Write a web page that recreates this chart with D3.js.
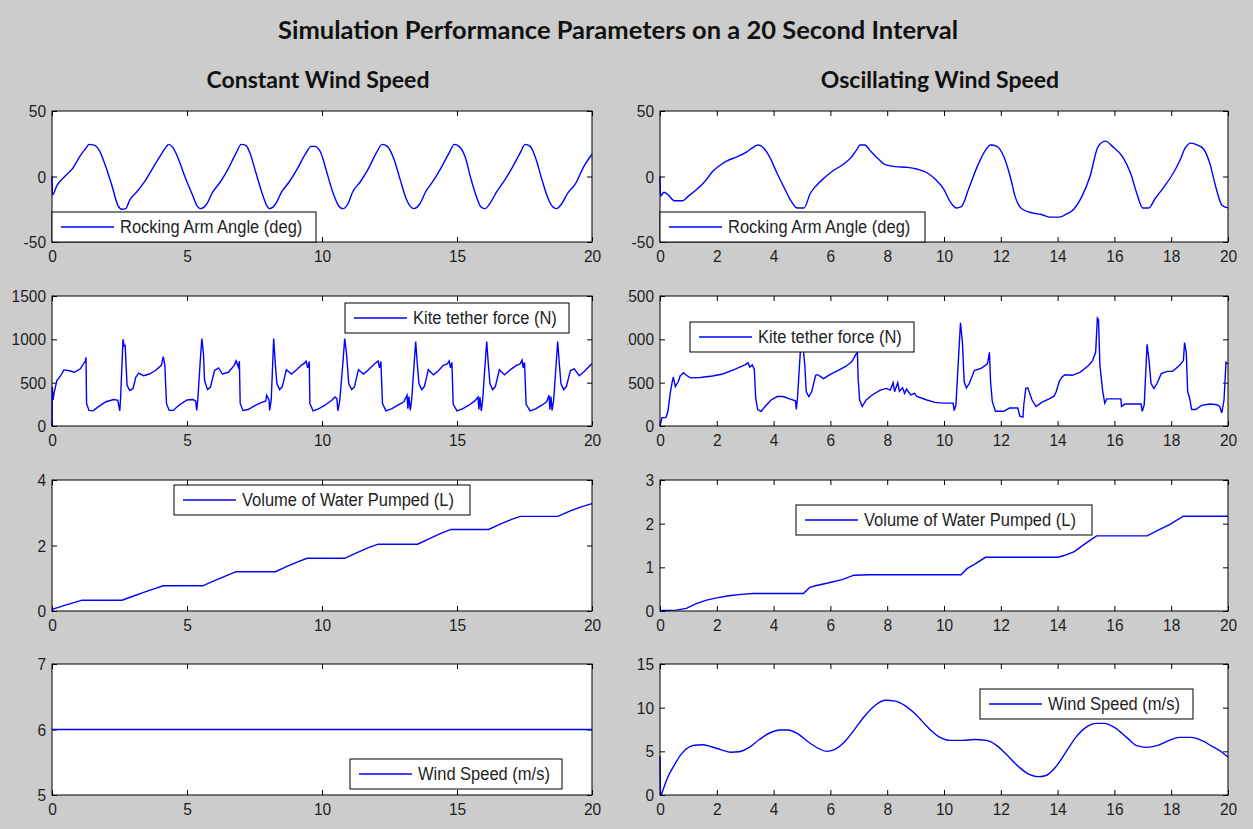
<!DOCTYPE html>
<html>
<head>
<meta charset="utf-8">
<script src="https://cdn.jsdelivr.net/npm/d3@7"></script>
<style>
  html, body { margin: 0; padding: 0; background: #cccccc; }
  .tick text { font-family: "Liberation Sans", Arial, sans-serif; font-size: 15.5px; fill: #1e1e1e; }
  .tick line { stroke: #000; }
  /* the original's Helvetica rendering is a little taller than it is wide */
  .tick text, .legend text { transform-box: fill-box; transform-origin: center; transform: scaleY(1.1); }
</style>
</head>
<body>
<div id="chart-area"></div>
<script>
// ---- data (time in s, value) ----
var xTicksConst = [0, 5, 10, 15, 20];
var xTicksOsc = [0, 2, 4, 6, 8, 10, 12, 14, 16, 18, 20];

var angleTicks = [-50, 0, 50];
var forceTicks = [0, 500, 1000, 1500];
var volTicksConst = [0, 2, 4];
var volTicksOsc = [0, 1, 2, 3];
var windTicksConst = [5, 6, 7];
var windTicksOsc = [0, 5, 10, 15];

var angleConst = [[0,0],[0.02,-14],[0.18,-7],[0.47,0],[0.76,6],[1.05,16],[1.27,22],[1.37,24.5],[1.56,24],[1.75,20],[2.0,7],[2.22,-7],[2.44,-22],[2.59,-25],[2.73,-24.5],[2.88,-18],[3.17,-11],[3.46,-3],[3.75,7],[4.05,17],[4.24,23],[4.32,24.5],[4.48,22],[4.63,16],[4.92,0],[5.2,-14],[5.39,-23],[5.51,-24.5],[5.73,-21],[5.95,-12],[6.24,-4],[6.53,6],[6.82,18],[7.01,24.5],[7.19,23.5],[7.33,18],[7.55,3],[7.77,-12],[7.95,-22],[8.06,-24.5],[8.28,-21],[8.5,-12],[8.79,-4],[9.09,6],[9.38,17],[9.6,23],[9.74,23],[9.96,18],[10.18,3],[10.4,-12],[10.62,-22.5],[10.77,-24.5],[10.96,-21],[11.13,-12],[11.42,-4],[11.72,6],[12.01,18],[12.23,24.5],[12.42,23],[12.67,13],[12.89,-2],[13.1,-16],[13.28,-23],[13.4,-24.5],[13.62,-21],[13.83,-12],[14.13,-3],[14.42,7],[14.71,18],[14.9,24.5],[15.08,23],[15.3,15],[15.52,-2],[15.73,-16],[15.88,-23],[16.03,-24.5],[16.25,-19.5],[16.46,-12],[16.76,-3],[17.05,7],[17.34,18],[17.52,24.5],[17.71,23],[17.93,13],[18.14,-2],[18.36,-16],[18.54,-23],[18.69,-24.5],[18.87,-21],[19.09,-13],[19.39,-5.5],[19.68,7],[20,17]];

var angleOsc = [[0,0],[0.02,-15],[0.14,-12],[0.29,-14],[0.5,-18.5],[0.79,-18.5],[1.0,-15],[1.29,-10],[1.57,-4],[1.86,4],[2.14,9],[2.36,12],[2.71,15],[3.07,19],[3.29,22.5],[3.46,24],[3.64,22],[3.86,15],[4.07,5],[4.36,-8],[4.57,-17],[4.83,-24],[5.07,-24],[5.29,-13],[5.5,-7],[5.79,-1],[6.07,4],[6.43,9],[6.71,14],[6.93,20.5],[7.04,24],[7.21,24],[7.43,19],[7.71,13],[7.93,9],[8.29,7.5],[8.71,7],[9.07,5.5],[9.43,2.5],[9.71,-2.5],[10.0,-10],[10.21,-19],[10.43,-24],[10.61,-23],[10.86,-10],[11.14,6],[11.43,19],[11.64,24],[11.86,23],[12.11,15],[12.36,-2.5],[12.5,-15],[12.71,-24],[13.14,-28],[13.43,-29],[13.71,-31],[14.07,-31],[14.29,-29],[14.57,-25],[14.86,-15],[15.14,0],[15.43,23],[15.69,27],[15.93,23],[16.29,15],[16.57,2.5],[16.79,-13],[17.0,-24],[17.21,-24],[17.43,-17],[17.71,-9],[18.0,0],[18.29,11.5],[18.5,22],[18.69,25.5],[18.93,24],[19.14,21],[19.36,10],[19.57,-8],[19.79,-22],[20,-24]];

var forceConst = [[0,0],[0.01,450],[0.04,300],[0.07,370],[0.18,525],[0.32,580],[0.44,647],[0.61,640],[0.83,620],[1.05,660],[1.23,750],[1.26,790],[1.28,260],[1.37,180],[1.52,175],[1.71,220],[2.0,280],[2.29,305],[2.44,297],[2.51,175],[2.54,315],[2.63,1000],[2.67,925],[2.71,930],[2.78,470],[2.88,410],[3.0,430],[3.1,560],[3.21,610],[3.39,580],[3.61,600],[3.83,640],[4.05,700],[4.12,800],[4.18,700],[4.24,260],[4.34,180],[4.49,180],[4.7,240],[5.0,300],[5.22,305],[5.32,290],[5.36,180],[5.4,300],[5.49,750],[5.55,1010],[5.61,830],[5.65,525],[5.76,420],[5.87,450],[6.02,640],[6.17,670],[6.31,600],[6.53,620],[6.75,700],[6.82,750],[6.9,680],[6.94,750],[6.97,260],[7.07,180],[7.26,190],[7.48,230],[7.7,265],[7.92,290],[7.95,355],[8.04,300],[8.06,180],[8.12,300],[8.21,1010],[8.27,715],[8.33,490],[8.43,420],[8.53,455],[8.68,650],[8.87,600],[9.06,650],[9.23,700],[9.35,725],[9.41,750],[9.47,670],[9.53,745],[9.55,260],[9.67,175],[9.89,200],[10.11,240],[10.37,300],[10.48,335],[10.55,315],[10.59,175],[10.66,300],[10.78,750],[10.84,1010],[10.91,830],[10.99,490],[11.1,420],[11.2,450],[11.35,650],[11.54,600],[11.72,650],[11.94,715],[12.08,750],[12.13,670],[12.18,745],[12.24,260],[12.37,175],[12.59,200],[12.81,240],[13.03,280],[13.15,355],[13.18,200],[13.22,340],[13.27,180],[13.32,300],[13.47,975],[13.53,715],[13.59,490],[13.69,420],[13.79,455],[13.94,650],[14.13,590],[14.32,640],[14.49,700],[14.64,715],[14.71,750],[14.76,670],[14.81,735],[14.86,250],[15.0,175],[15.22,200],[15.44,240],[15.66,290],[15.78,335],[15.81,190],[15.85,335],[15.9,175],[15.95,300],[16.1,975],[16.16,715],[16.22,490],[16.32,420],[16.42,455],[16.57,650],[16.76,590],[16.98,650],[17.2,700],[17.34,715],[17.41,760],[17.45,670],[17.5,735],[17.56,250],[17.71,175],[17.93,200],[18.14,240],[18.32,280],[18.41,355],[18.44,190],[18.48,340],[18.52,180],[18.58,300],[18.73,975],[18.79,715],[18.85,490],[18.95,420],[19.05,455],[19.2,640],[19.34,660],[19.53,580],[19.75,640],[20,720]];

var forceOsc = [[0,0],[0.07,95],[0.21,100],[0.28,170],[0.36,380],[0.43,510],[0.47,565],[0.54,455],[0.64,510],[0.71,577],[0.83,615],[0.93,585],[1.07,555],[1.42,560],[1.85,577],[2.21,600],[2.63,653],[2.99,705],[3.1,728],[3.16,680],[3.25,705],[3.32,653],[3.37,320],[3.44,190],[3.56,170],[3.7,225],[3.91,300],[4.13,340],[4.34,340],[4.56,313],[4.77,290],[4.8,190],[4.84,320],[4.94,850],[5.01,1000],[5.1,700],[5.15,395],[5.24,340],[5.34,395],[5.48,585],[5.55,592],[5.76,547],[5.98,592],[6.26,640],[6.55,690],[6.76,743],[6.9,830],[6.95,850],[6.98,528],[7.03,300],[7.12,225],[7.26,300],[7.47,358],[7.76,415],[7.97,434],[8.11,415],[8.21,500],[8.26,396],[8.37,500],[8.43,400],[8.54,440],[8.61,377],[8.68,426],[8.83,358],[8.97,377],[9.04,340],[9.4,300],[9.68,272],[9.96,264],[10.32,264],[10.36,177],[10.42,245],[10.51,775],[10.58,1190],[10.65,960],[10.71,510],[10.79,440],[10.89,490],[11.07,640],[11.32,668],[11.53,717],[11.6,850],[11.64,510],[11.7,283],[11.81,170],[12.1,170],[12.31,207],[12.6,207],[12.67,113],[12.78,102],[12.81,245],[12.88,434],[12.95,440],[13.1,300],[13.24,225],[13.45,275],[13.74,320],[13.88,347],[13.95,396],[14.06,517],[14.16,566],[14.26,592],[14.52,585],[14.8,622],[15.09,698],[15.23,755],[15.34,850],[15.4,1245],[15.44,1226],[15.49,700],[15.59,396],[15.66,264],[15.73,313],[16.0,313],[16.23,313],[16.25,226],[16.37,253],[16.65,253],[16.94,253],[16.98,170],[17.05,245],[17.15,943],[17.22,755],[17.29,490],[17.39,434],[17.5,490],[17.65,604],[17.86,630],[18.05,630],[18.29,698],[18.43,755],[18.47,962],[18.53,850],[18.58,396],[18.65,320],[18.72,190],[18.86,190],[19.07,238],[19.36,253],[19.61,245],[19.71,226],[19.78,150],[19.86,300],[19.93,735],[20,715]];

var volumeConst = [[0,0.05],[0.5,0.18],[1.12,0.33],[2.59,0.33],[3.0,0.45],[3.5,0.6],[4.12,0.77],[5.58,0.77],[6.0,0.92],[6.4,1.06],[6.82,1.2],[8.28,1.2],[8.7,1.36],[9.1,1.5],[9.45,1.61],[10.84,1.61],[11.3,1.78],[11.7,1.93],[12.08,2.04],[13.54,2.04],[14.0,2.22],[14.4,2.37],[14.78,2.49],[16.17,2.49],[16.6,2.65],[17.0,2.79],[17.34,2.89],[18.73,2.89],[19.2,3.06],[19.6,3.18],[20,3.28]];

var volumeOsc = [[0,0.01],[0.57,0.02],[0.93,0.06],[1.28,0.17],[1.64,0.25],[2.0,0.3],[2.42,0.35],[2.85,0.38],[3.27,0.4],[5.05,0.4],[5.27,0.54],[5.55,0.59],[5.91,0.64],[6.41,0.72],[6.83,0.82],[7.4,0.83],[10.6,0.83],[10.81,0.97],[11.1,1.08],[11.46,1.23],[14.02,1.23],[14.23,1.27],[14.59,1.36],[14.95,1.53],[15.37,1.72],[17.15,1.72],[17.51,1.84],[17.94,1.98],[18.43,2.17],[20,2.17]];

var windConst = [[0,6],[20,6]];

var windOsc = [[0,4.5],[0.02,0],[0.14,0.9],[0.28,2.1],[0.5,3.4],[0.71,4.5],[0.93,5.3],[1.21,5.7],[1.5,5.75],[1.78,5.55],[2.14,5.2],[2.5,4.9],[2.78,4.95],[3.14,5.45],[3.5,6.35],[3.86,7.1],[4.21,7.45],[4.5,7.45],[4.86,7.0],[5.21,6.1],[5.57,5.35],[5.86,5.0],[6.14,5.2],[6.5,6.1],[6.86,7.55],[7.21,9.05],[7.57,10.25],[7.93,10.85],[8.29,10.75],[8.64,10.2],[9.0,9.25],[9.43,7.75],[9.86,6.6],[10.21,6.25],[10.64,6.25],[11.07,6.35],[11.5,6.25],[11.86,5.65],[12.21,4.6],[12.64,3.2],[13.0,2.35],[13.29,2.1],[13.57,2.2],[13.93,3.2],[14.29,4.9],[14.64,6.6],[15.0,7.75],[15.36,8.2],[15.64,8.2],[16.0,7.75],[16.43,6.6],[16.79,5.65],[17.14,5.45],[17.5,5.65],[17.93,6.25],[18.29,6.6],[18.71,6.6],[19.07,6.25],[19.43,5.6],[19.79,4.9],[20,4.35]];

// ---- layout ----
var width = 1253, height = 829;
var cols = [
    { x0: 52, x1: 592, title: "Constant Wind Speed", ticks: xTicksConst },
    { x0: 660, x1: 1228, title: "Oscillating Wind Speed", ticks: xTicksOsc }
];
var rows = [ { y0: 111, y1: 242 }, { y0: 296, y1: 426 }, { y0: 480, y1: 611 }, { y0: 664, y1: 795 } ];

// legend boxes given relative to the axes' top-left corner
var panels = [
    { c: 0, r: 0, data: angleConst, domain: [-50, 50], ticks: angleTicks, smooth: true,
      label: "Rocking Arm Angle (deg)", lg: { x: 0, y: 101, w: 264 } },
    { c: 1, r: 0, data: angleOsc, domain: [-50, 50], ticks: angleTicks, smooth: true,
      label: "Rocking Arm Angle (deg)", lg: { x: 0, y: 101, w: 265 } },
    { c: 0, r: 1, data: forceConst, domain: [0, 1500], ticks: forceTicks, smooth: false,
      label: "Kite tether force (N)", lg: { x: 293, y: 7, w: 224 } },
    { c: 1, r: 1, data: forceOsc, domain: [0, 1500], ticks: forceTicks, smooth: false,
      label: "Kite tether force (N)", lg: { x: 30, y: 26, w: 224 } },
    { c: 0, r: 2, data: volumeConst, domain: [0, 4], ticks: volTicksConst, smooth: false,
      label: "Volume of Water Pumped (L)", lg: { x: 122, y: 5, w: 296 } },
    { c: 1, r: 2, data: volumeOsc, domain: [0, 3], ticks: volTicksOsc, smooth: false,
      label: "Volume of Water Pumped (L)", lg: { x: 136, y: 25, w: 296 } },
    { c: 0, r: 3, data: windConst, domain: [5, 7], ticks: windTicksConst, smooth: false,
      label: "Wind Speed (m/s)", lg: { x: 298, y: 95, w: 212 } },
    { c: 1, r: 3, data: windOsc, domain: [0, 15], ticks: windTicksOsc, smooth: true,
      label: "Wind Speed (m/s)", lg: { x: 320, y: 25, w: 213 } }
];

// plain integer labels with an ascii minus, like the original
var plainFormat = function(d) { return String(d); };

var svg = d3.select("#chart-area")
    .append("svg")
        .attr("width", width)
        .attr("height", height);

svg.append("rect")
    .attr("width", width)
    .attr("height", height)
    .attr("fill", "#cccccc");

// the right figure was cropped on its left side in the original
var defs = svg.append("defs");
defs.append("clipPath").attr("id", "crop-right")
    .append("rect").attr("x", 627).attr("y", 0).attr("width", width - 627).attr("height", height);

svg.append("text")
    .attr("x", 618)
    .attr("y", 39)
    .attr("text-anchor", "middle")
    .attr("font-family", "Lato, 'Open Sans', sans-serif")
    .attr("font-weight", "bold")
    .attr("font-size", "25.5px")
    .attr("fill", "#111")
    .text("Simulation Performance Parameters on a 20 Second Interval");

var colGroups = cols.map(function(c, i) {
    var cg = svg.append("g");
    if (i == 1) cg.attr("clip-path", "url(#crop-right)");
    cg.append("text")
        .attr("x", (c.x0 + c.x1) / 2 - 4)
        .attr("y", 88)
        .attr("text-anchor", "middle")
        .attr("font-family", "Lato, 'Open Sans', sans-serif")
        .attr("font-weight", "bold")
        .attr("font-size", "23px")
        .attr("fill", "#111")
        .text(c.title);
    return cg;
});

panels.forEach(function(p, i) {
    var c = cols[p.c], r = rows[p.r];
    var w = c.x1 - c.x0, h = r.y1 - r.y0;

    var g = colGroups[p.c].append("g")
        .attr("transform", "translate(" + c.x0 + "," + r.y0 + ")");

    g.append("rect")
        .attr("width", w)
        .attr("height", h)
        .attr("fill", "#fff");

    var x = d3.scaleLinear().domain([0, 20]).range([0, w]);
    var y = d3.scaleLinear().domain(p.domain).range([h, 0]);

    // bottom axis with labels, top axis ticks only
    g.append("g")
        .attr("transform", "translate(0," + h + ")")
        .call(d3.axisBottom(x).tickValues(c.ticks).tickFormat(plainFormat)
            .tickSizeInner(-5).tickSizeOuter(0).tickPadding(8))
        .call(function(a) { a.select(".domain").remove(); });
    g.append("g")
        .call(d3.axisTop(x).tickValues(c.ticks).tickSizeInner(-5).tickSizeOuter(0).tickFormat(""))
        .call(function(a) { a.select(".domain").remove(); });

    g.append("g")
        .call(d3.axisLeft(y).tickValues(p.ticks).tickFormat(plainFormat)
            .tickSizeInner(-5).tickSizeOuter(0).tickPadding(6))
        .call(function(a) { a.select(".domain").remove(); });
    g.append("g")
        .attr("transform", "translate(" + w + ",0)")
        .call(d3.axisRight(y).tickValues(p.ticks).tickSizeInner(-5).tickSizeOuter(0).tickFormat(""))
        .call(function(a) { a.select(".domain").remove(); });

    var clipId = "plot-clip-" + i;
    defs.append("clipPath").attr("id", clipId)
        .append("rect").attr("x", -1).attr("y", -1).attr("width", w + 2).attr("height", h + 2);

    var line = d3.line()
        .x(function(d) { return x(d[0]); })
        .y(function(d) { return y(d[1]); })
        .curve(p.smooth ? d3.curveMonotoneX : d3.curveLinear);

    g.append("path")
        .datum(p.data)
        .attr("clip-path", "url(#" + clipId + ")")
        .attr("fill", "none")
        .attr("stroke", "#0000ff")
        .attr("stroke-width", 1.4)
        .attr("d", line);

    g.append("rect")
        .attr("width", w)
        .attr("height", h)
        .attr("fill", "none")
        .attr("stroke", "#000")
        .attr("stroke-width", 1);

    // legend
    var lg = g.append("g")
        .attr("class", "legend")
        .attr("transform", "translate(" + p.lg.x + "," + p.lg.y + ")");
    lg.append("rect")
        .attr("width", p.lg.w)
        .attr("height", 30)
        .attr("fill", "#fff")
        .attr("stroke", "#000")
        .attr("stroke-width", 1);
    lg.append("line")
        .attr("x1", 9).attr("x2", 62)
        .attr("y1", 15).attr("y2", 15)
        .attr("stroke", "#0000ff")
        .attr("stroke-width", 1.4);
    lg.append("text")
        .attr("x", 68)
        .attr("y", 15)
        .attr("dy", "0.36em")
        .attr("font-family", "'Liberation Sans', Arial, sans-serif")
        .attr("font-size", "16.5px")
        .attr("fill", "#1e1e1e")
        .text(p.label);
});
</script>
</body>
</html>
